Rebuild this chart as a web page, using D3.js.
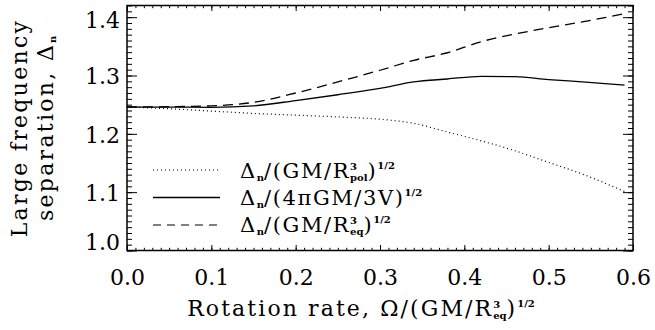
<!DOCTYPE html>
<html><head><meta charset="utf-8">
<script src="https://cdn.jsdelivr.net/npm/d3@7"></script>
<style>body{margin:0;background:#fff}svg{display:block}text{font-family:"DejaVu Serif",serif;fill:#000}</style>
</head><body>
<svg id="c" width="655" height="330"></svg>
<script>
// Data
const rotation = [0, 0.05, 0.10, 0.15, 0.20, 0.25, 0.30, 0.34, 0.38, 0.42, 0.46, 0.50, 0.54, 0.59];
const deltaPol = [1.246, 1.243, 1.239, 1.235, 1.232, 1.229, 1.225, 1.218, 1.203, 1.188, 1.171, 1.151, 1.131, 1.101];
const deltaVol = [1.246, 1.2458, 1.2455, 1.248, 1.257, 1.267, 1.278, 1.289, 1.294, 1.2985, 1.298, 1.293, 1.289, 1.2835];
const deltaEq  = [1.246, 1.2465, 1.248, 1.254, 1.270, 1.289, 1.309, 1.326, 1.339, 1.358, 1.371, 1.382, 1.392, 1.406];
const xTicks = [0, 0.1, 0.2, 0.3, 0.4, 0.5, 0.6];
const yTicks = [1.0, 1.1, 1.2, 1.3, 1.4];

const svg = d3.select("#c");
const L = 127, R = 633, T = 5.5, B = 250.5;
const x = d3.scaleLinear([0, 0.6], [L, R]);
const y = d3.scaleLinear([1.0, 1.42], [B, T]);

// minor ticks
const xMinor = d3.range(0, 0.6001, 0.01);
const yMinor = d3.range(1.0, 1.4201, 0.01).filter(v => v <= 1.42);

function tickAxis(gen, tr, vals, size) {
  svg.append("g").attr("transform", tr)
    .call(gen.tickValues(vals).tickSize(size).tickFormat(""))
    .call(g => g.select(".domain").remove())
    .call(g => g.selectAll("line").attr("stroke", "#000").attr("stroke-width", 1));
}
// bottom & top (inward)
tickAxis(d3.axisBottom(x), `translate(0,${B})`, xMinor, -2.7);
tickAxis(d3.axisBottom(x), `translate(0,${B})`, xTicks, -5.5);
tickAxis(d3.axisTop(x), `translate(0,${T})`, xMinor, -2.7);
tickAxis(d3.axisTop(x), `translate(0,${T})`, xTicks, -5.5);
// left & right
tickAxis(d3.axisLeft(y), `translate(${L},0)`, yMinor, -5);
tickAxis(d3.axisLeft(y), `translate(${L},0)`, yTicks, -10);
tickAxis(d3.axisRight(y), `translate(${R},0)`, yMinor, -5);
tickAxis(d3.axisRight(y), `translate(${R},0)`, yTicks, -10);

// frame
svg.append("rect").attr("x", L).attr("y", T).attr("width", R - L).attr("height", B - T)
  .attr("fill", "none").attr("stroke", "#000").attr("stroke-width", 1.5);

// tick labels
svg.append("g").attr("transform", `translate(0,${B})`)
  .call(d3.axisBottom(x).tickValues(xTicks).tickSize(0).tickPadding(19).tickFormat(d3.format(".1f")))
  .call(g => g.select(".domain").remove())
  .call(g => g.selectAll("text").attr("font-size", 22).attr("font-family", "DejaVu Serif").attr("fill", "#000"));
svg.append("g").attr("transform", `translate(${L},0)`)
  .call(d3.axisLeft(y).tickValues(yTicks).tickSize(0).tickPadding(7).tickFormat(d3.format(".1f")))
  .call(g => g.select(".domain").remove())
  .call(g => g.selectAll("text").attr("font-size", 22).attr("font-family", "DejaVu Serif").attr("fill", "#000")
     .attr("dy", d => d === 1.0 ? "-0.05em" : (d === 1.4 ? "0.45em" : "0.38em")));

// curves
const series = [
  {vals: deltaPol, dash: "1,3", w: 1.2},
  {vals: deltaVol, dash: null, w: 1.3},
  {vals: deltaEq, dash: "10,6", w: 1.3}
];
const line = d3.line().x(d => x(d[0])).y(d => y(d[1])).curve(d3.curveMonotoneX);
series.forEach(s => {
  svg.append("path").datum(rotation.map((r, i) => [r, s.vals[i]]))
    .attr("d", line).attr("fill", "none").attr("stroke", "#000")
    .attr("stroke-width", s.w).attr("stroke-dasharray", s.dash);
});

// rich text helper
function rich(parent, segs, base, ls) {
  const g = parent.append("g");
  let cx = 0, stack = null;
  segs.forEach(s => {
    const size = s.size || base;
    const t = g.append("text").attr("font-size", size).attr("y", s.dy || 0)
      .attr("font-weight", s.bold ? "bold" : null)
      .attr("letter-spacing", s.ls != null ? s.ls : ls).text(s.t);
    if (s.stack === "start") { t.attr("x", cx); stack = {x: cx, w: t.node().getComputedTextLength()}; }
    else if (s.stack === "end") { t.attr("x", stack.x); cx = stack.x + Math.max(stack.w, t.node().getComputedTextLength()); stack = null; }
    else { t.attr("x", cx); cx += t.node().getComputedTextLength(); }
  });
  return g;
}

// legend
const legY = [170, 197.5, 225];
const legDash = ["1,3", null, "8,6"];
const legColor = ["#555", "#000", "#555"];
legY.forEach((ly, i) => {
  svg.append("line").attr("x1", 153).attr("x2", 220).attr("y1", ly).attr("y2", ly)
    .attr("stroke", legColor[i]).attr("stroke-width", 1.3).attr("stroke-dasharray", legDash[i]);
});
const legTexts = [
  [{t: "Δ"}, {t: "n", size: 10, dy: 3, bold: true, ls: 0}, {t: "/(GM/R"}, {t: "3", size: 10, dy: -8, bold: true, stack: "start", ls: 0}, {t: "pol", size: 10, dy: 3, bold: true, stack: "end", ls: 0}, {t: ")"}, {t: "1/2", size: 10, dy: -9, bold: true, ls: 0}],
  [{t: "Δ"}, {t: "n", size: 10, dy: 3, bold: true, ls: 0}, {t: "/(4πGM/3V)"}, {t: "1/2", size: 10, dy: -9, bold: true, ls: 0}],
  [{t: "Δ"}, {t: "n", size: 10, dy: 3, bold: true, ls: 0}, {t: "/(GM/R"}, {t: "3", size: 10, dy: -8, bold: true, stack: "start", ls: 0}, {t: "eq", size: 10, dy: 3, bold: true, stack: "end", ls: 0}, {t: ")"}, {t: "1/2", size: 10, dy: -9, bold: true, ls: 0}]
];
const legBase = [178, 205, 232];
legTexts.forEach((segs, i) => {
  rich(svg, segs, 21, 1.6).attr("transform", `translate(240,${legBase[i]})`);
});

// x title
const xt = rich(svg, [{t: "Rotation rate, Ω/(GM/R"}, {t: "3", size: 10, dy: -8, bold: true, stack: "start", ls: 0}, {t: "eq", size: 10, dy: 3, bold: true, stack: "end", ls: 0}, {t: ")"}, {t: "1/2", size: 10, dy: -9, bold: true, ls: 0}], 22, 2.1);
const xb = xt.node().getBBox();
xt.attr("transform", `translate(${361 - xb.width / 2},316)`);

// y title (two lines, rotated)
const yt1 = rich(svg, [{t: "Large frequency"}], 22, 2.3);
const b1 = yt1.node().getBBox();
yt1.attr("transform", `translate(27,${128 + b1.width / 2}) rotate(-90)`);
const yt2 = rich(svg, [{t: "separation, Δ"}, {t: "n", size: 10, dy: 3, bold: true, ls: 0}], 22, 2.3);
const b2 = yt2.node().getBBox();
yt2.attr("transform", `translate(53,${128 + b2.width / 2}) rotate(-90)`);
</script>
</body></html>
